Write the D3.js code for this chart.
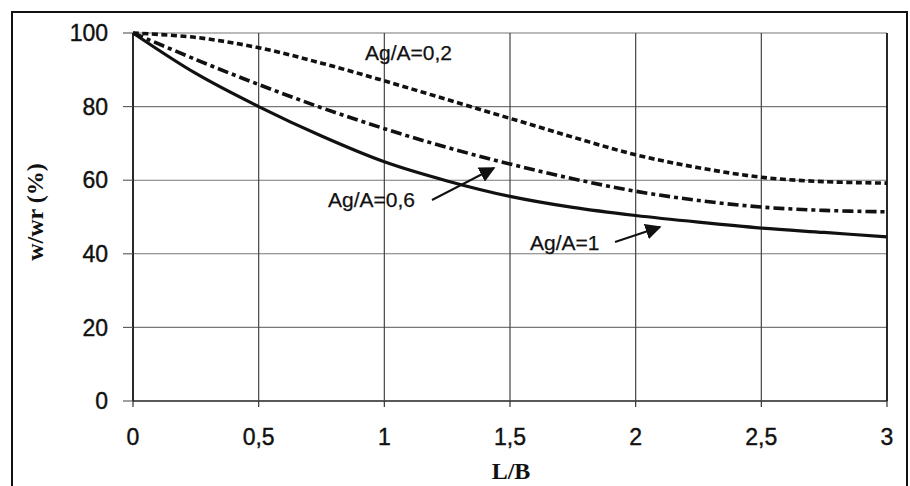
<!DOCTYPE html>
<html>
<head>
<meta charset="utf-8">
<script src="https://cdn.jsdelivr.net/npm/d3@7"></script>
<style>
  html, body { margin: 0; padding: 0; background: #fff; }
  svg { display: block; }
  .tick-label { font-family: "Liberation Sans", Arial, sans-serif; font-size: 23px; fill: #111; stroke: #111; stroke-width: 0.4px; }
  .note { font-family: "Liberation Sans", Arial, sans-serif; font-size: 21px; fill: #111; stroke: #111; stroke-width: 0.25px; }
  .axis-title { font-family: "Liberation Serif", "Times New Roman", serif; font-weight: bold; font-size: 24px; fill: #111; }
</style>
</head>
<body>
<script>
// L/B ratio values sampled along each curve
const lb = [0, 0.25, 0.5, 0.75, 1, 1.25, 1.5, 1.75, 2, 2.25, 2.5, 2.75, 3];
// w/wr (%) for each Ag/A ratio
const agA02 = [100, 98.8, 96.0, 91.8, 87.0, 81.9, 76.8, 71.7, 66.9, 63.4, 60.8, 59.6, 59.2];
const agA06 = [100, 92.8, 86.0, 79.7, 74.0, 68.9, 64.4, 60.4, 57.0, 54.5, 52.7, 51.8, 51.4];
const agA1  = [100, 89.0, 80.0, 72.0, 65.0, 59.8, 55.6, 52.6, 50.4, 48.6, 47.0, 45.8, 44.6];

const xTicks = [0, 0.5, 1, 1.5, 2, 2.5, 3];
const xTickLabels = ["0", "0,5", "1", "1,5", "2", "2,5", "3"];
const yTicks = [0, 20, 40, 60, 80, 100];

const W = 910, H = 486;
const svg = d3.select("body").append("svg").attr("width", W).attr("height", H);

// outer frame
svg.append("rect")
  .attr("x", 12).attr("y", 12).attr("width", 895).attr("height", H)
  .attr("fill", "none").attr("stroke", "#111").attr("stroke-width", 2);

const x = d3.scaleLinear().domain([0, 3]).range([133, 887]);
const y = d3.scaleLinear().domain([0, 100]).range([401, 33]);

const g = svg.append("g");

// horizontal grid lines
g.selectAll(".hgrid").data(yTicks).join("line")
  .attr("x1", x(0)).attr("x2", x(3))
  .attr("y1", d => y(d)).attr("y2", d => y(d))
  .attr("stroke", d => d === 0 ? "#222" : "#777")
  .attr("stroke-width", d => d === 0 ? 1.6 : 1.1);

// vertical grid lines
g.selectAll(".vgrid").data(xTicks).join("line")
  .attr("x1", d => x(d)).attr("x2", d => x(d))
  .attr("y1", y(100)).attr("y2", y(0))
  .attr("stroke", d => (d === 0 || d === 3) ? "#111" : "#444")
  .attr("stroke-width", d => (d === 0 || d === 3) ? 1.8 : 1.2);

// y tick marks and labels
g.selectAll(".ytick").data(yTicks).join("line")
  .attr("x1", x(0) - 10).attr("x2", x(0))
  .attr("y1", d => y(d)).attr("y2", d => y(d))
  .attr("stroke", "#555").attr("stroke-width", 1.1);
g.selectAll(".ylab").data(yTicks).join("text")
  .attr("class", "tick-label")
  .attr("x", 108).attr("y", d => y(d))
  .attr("dy", "0.36em")
  .attr("text-anchor", "end")
  .text(d => d);

// x tick marks and labels
g.selectAll(".xtick").data(xTicks).join("line")
  .attr("x1", d => x(d)).attr("x2", d => x(d))
  .attr("y1", y(0)).attr("y2", y(0) + 6)
  .attr("stroke", "#333").attr("stroke-width", 1.2);
g.selectAll(".xlab").data(xTicks).join("text")
  .attr("class", "tick-label")
  .attr("x", d => x(d)).attr("y", 445)
  .attr("text-anchor", "middle")
  .text((d, i) => xTickLabels[i]);

// axis titles
svg.append("text").attr("class", "axis-title")
  .attr("x", 511).attr("y", 479).attr("text-anchor", "middle").text("L/B");
svg.append("text").attr("class", "axis-title")
  .attr("transform", "translate(43,212) rotate(-90)")
  .attr("text-anchor", "middle").text("w/wr (%)");

// curves
const line = d3.line()
  .x(d => x(d[0])).y(d => y(d[1]))
  .curve(d3.curveCatmullRom.alpha(0.5));
const series = [
  { vals: agA02, dash: "6,3.5", width: 3.6 },
  { vals: agA06, dash: "11,4,4,4", width: 3.6 },
  { vals: agA1,  dash: null, width: 3.2 }
];
g.selectAll(".curve").data(series).join("path")
  .attr("d", s => line(lb.map((v, i) => [v, s.vals[i]])))
  .attr("fill", "none")
  .attr("stroke", "#111")
  .attr("stroke-width", s => s.width)
  .attr("stroke-dasharray", s => s.dash);

// annotations
svg.append("text").attr("class", "note").attr("x", 365).attr("y", 60).text("Ag/A=0,2");
svg.append("text").attr("class", "note").attr("x", 328).attr("y", 207).text("Ag/A=0,6");
svg.append("text").attr("class", "note").attr("x", 530).attr("y", 250).text("Ag/A=1");

const defs = svg.append("defs");
defs.append("marker").attr("id", "head")
  .attr("viewBox", "0 0 10 10").attr("refX", 9).attr("refY", 5)
  .attr("markerWidth", 8).attr("markerHeight", 8)
  .attr("markerUnits", "strokeWidth")
  .attr("orient", "auto")
  .append("path").attr("d", "M0,0 L10,5 L0,10 Z").attr("fill", "#111");

const arrows = [
  { from: [432, 200], to: [494, 168] },
  { from: [615, 242], to: [660, 227] }
];
svg.selectAll(".arrow").data(arrows).join("line")
  .attr("x1", d => d.from[0]).attr("y1", d => d.from[1])
  .attr("x2", d => d.to[0]).attr("y2", d => d.to[1])
  .attr("stroke", "#111").attr("stroke-width", 2)
  .attr("marker-end", "url(#head)");
</script>
</body>
</html>
